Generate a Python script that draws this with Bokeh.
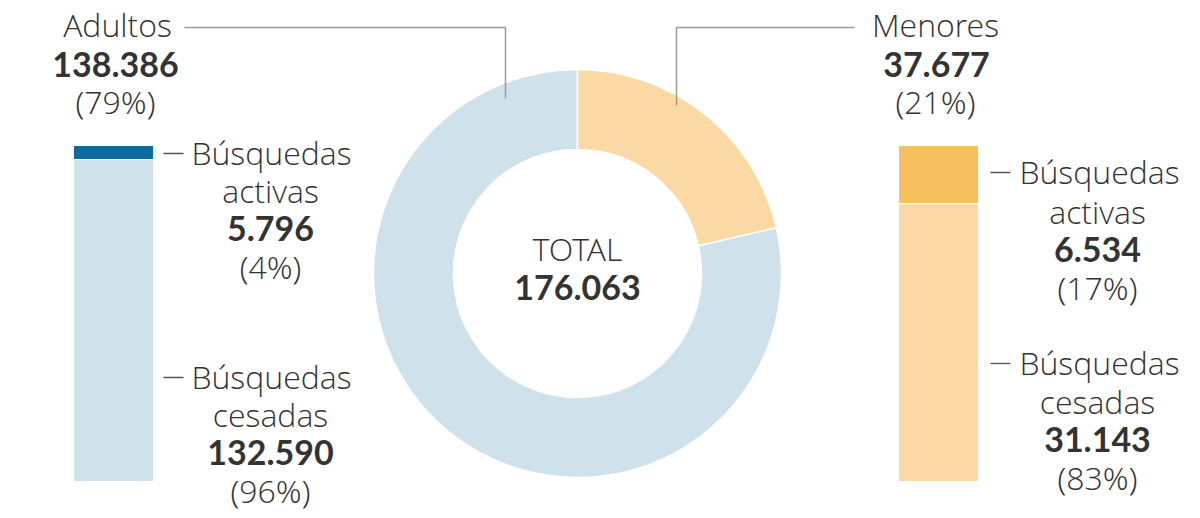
import math
from bokeh.plotting import figure
from bokeh.models import Range1d
from bokeh.core.properties import value
from bokeh.embed import file_html
from bokeh.resources import INLINE

# ---- data ----
groups = ["Adultos", "Menores"]
group_totals = [138386, 37677]
group_pcts = ["(79%)", "(21%)"]
total_value = 176063
adult_segments = ["Búsquedas activas", "Búsquedas cesadas"]
adult_values = [5796, 132590]
adult_pcts = ["(4%)", "(96%)"]
minor_values = [6534, 31143]
minor_pcts = ["(17%)", "(83%)"]

def fmt(n):
    return f"{n:,}".replace(",", ".")

W, H = 1200, 518
p = figure(width=W, height=H, output_backend="svg", toolbar_location=None,
           x_range=Range1d(0, W), y_range=Range1d(518 - H, 518),
           min_border=0, outline_line_color=None)
p.axis.visible = False
p.grid.visible = False
p.background_fill_color = "white"
p.border_fill_color = "white"

def Y(img_y):
    return 518 - img_y

FONT_N = value("Open Sans Light")
FONT_B = value("Lato")
TXT = "#333333"
NS = "32px"
BS = "34px"

# ---- donut ----
cx, cy = 577, Y(273)
r_out, r_in = 204, 124
tot = sum(group_totals)
f_m = group_totals[1] / tot
start_m = math.pi / 2
end_m = math.pi / 2 - 2 * math.pi * f_m
p.annular_wedge(x=[cx, cx], y=[cy, cy], inner_radius=r_in, outer_radius=r_out,
                start_angle=[end_m, start_m], end_angle=[start_m, end_m],
                direction="clock",
                fill_color=["#cfe2ec", "#fad9a5"], line_color="white", line_width=1.5)

# ---- stacked bars ----
bar_top, bar_h, bar_w = 145, 336, 80

def stacked(xc, vals, colors):
    t = sum(vals)
    y0 = bar_top
    tops, bots = [], []
    for v in vals:
        h = bar_h * v / t
        tops.append(Y(y0)); bots.append(Y(y0 + h))
        y0 += h
    p.quad(left=[xc - bar_w / 2] * len(vals), right=[xc + bar_w / 2] * len(vals),
           top=tops, bottom=bots, fill_color=colors, line_color="white", line_width=1)

stacked(113, adult_values, ["#0a6aa1", "#cfe2ec"])
stacked(938, minor_values, ["#f7bf5e", "#fad9a5"])

# ---- leader lines ----
p.line(x=[184, 505, 505], y=[Y(27), Y(27), Y(98)], line_color="#9a9a9a", line_width=1.5)
p.line(x=[854, 676, 676], y=[Y(27), Y(27), Y(105)], line_color="#9a9a9a", line_width=1.5)

# dashes near bar labels
for (x0, x1, yy) in [(163, 183, 153), (163, 183, 377), (990, 1010, 172), (990, 1010, 363)]:
    p.line(x=[x0, x1], y=[Y(yy), Y(yy)], line_color="#555555", line_width=1.3)

def txt(x, y, s, bold=False, size=None):
    p.text(x=[x], y=[Y(y)], text=[s], text_align="center", text_baseline="middle",
           text_font=FONT_B if bold else FONT_N, text_font_size=size or (BS if bold else NS),
           text_font_style="bold" if bold else "normal", text_color="#333333" if bold else TXT)

# group labels
txt(117, 24, groups[0]); txt(115, 64, fmt(group_totals[0]), True); txt(115, 101, group_pcts[0])
txt(935, 24, groups[1]); txt(936, 64, fmt(group_totals[1]), True); txt(935, 101, group_pcts[1])

# center
txt(577, 248, "TOTAL"); txt(577, 287, fmt(total_value), True)

# adult bar labels
a_act = adult_segments[0].split(" ")
a_ces = adult_segments[1].split(" ")
txt(271, 152, a_act[0]); txt(270, 190, a_act[1]); txt(270, 228, fmt(adult_values[0]), True); txt(270, 266, adult_pcts[0])
txt(271, 376, a_ces[0]); txt(270, 414, a_ces[1]); txt(270, 452, fmt(adult_values[1]), True); txt(270, 490, adult_pcts[1])

# minor bar labels
txt(1099, 171, a_act[0]); txt(1097, 211, a_act[1]); txt(1097, 249, fmt(minor_values[0]), True); txt(1097, 287, minor_pcts[0])
txt(1099, 362, a_ces[0]); txt(1097, 401, a_ces[1]); txt(1097, 439, fmt(minor_values[1]), True); txt(1097, 477, minor_pcts[1])

open("out.html", "w").write(file_html(p, INLINE))
